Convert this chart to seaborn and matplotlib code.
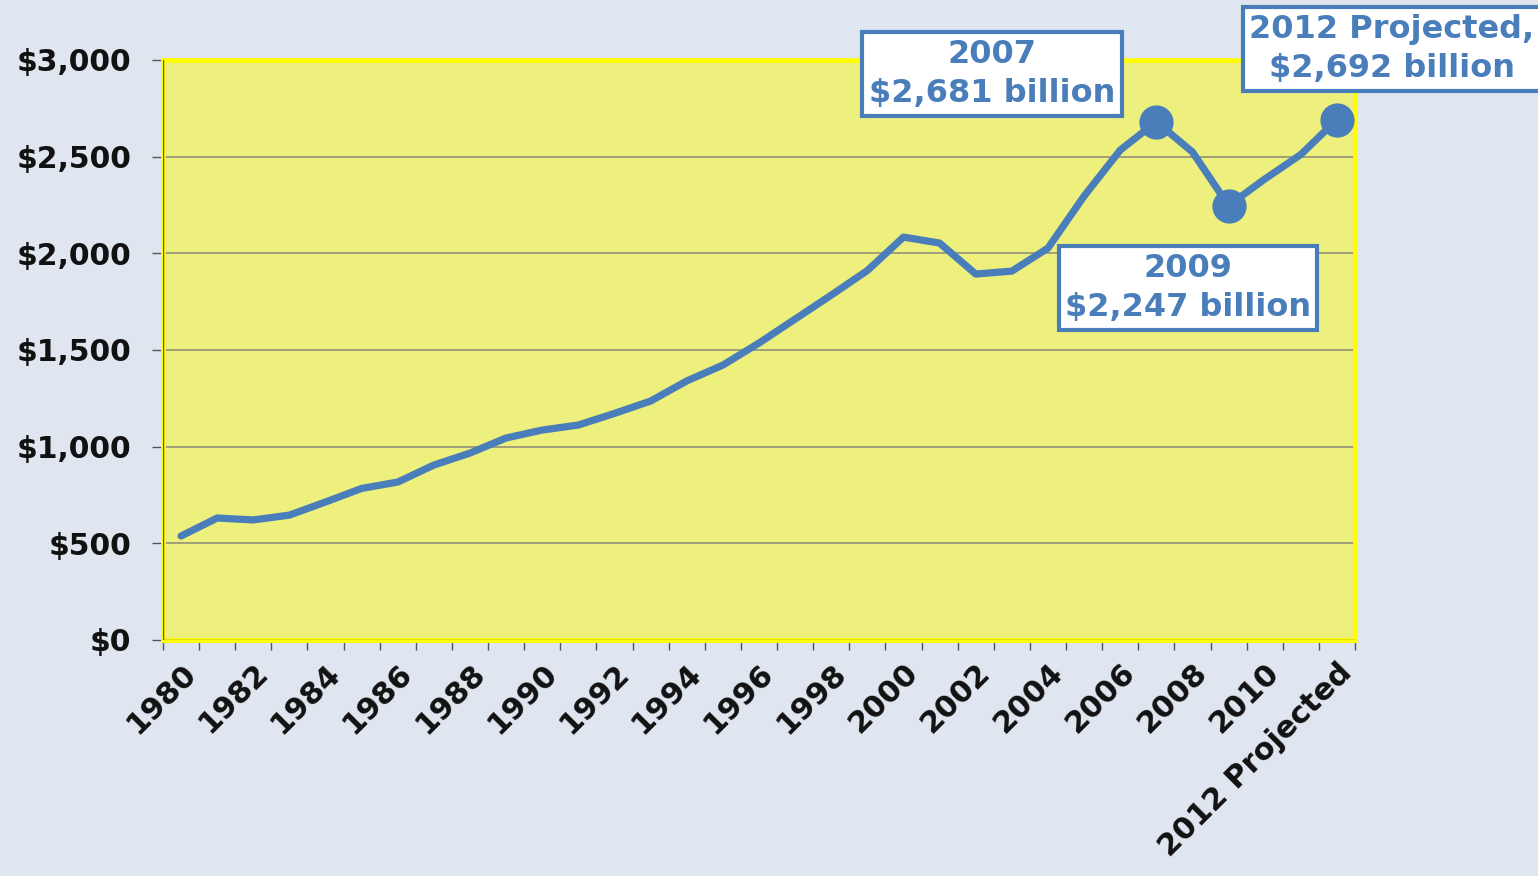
import matplotlib
matplotlib.use("Agg")
import matplotlib.pyplot as plt
import matplotlib.ticker as mticker
import seaborn as sns
import numpy as np
import pandas as pd

years = list(range(1980, 2013))
spending = [538, 631, 621, 646, 714, 784, 817, 905, 967, 1045, 1086, 1112,
            1172, 1236, 1340, 1422, 1536, 1660, 1784, 1911, 2084, 2053, 1893,
            1908, 2027, 2296, 2534, 2681, 2524, 2247, 2384, 2511, 2692]
tick_labels = [str(y) for y in range(1980, 2012, 2)] + ["2012 Projected"]
highlight_years = [2007, 2009, 2012]
annot_texts = ["2007\n$2,681 billion", "2009\n$2,247 billion",
               "2012 Projected,\n$2,692 billion"]

df = pd.DataFrame({"year": years, "spending": spending})
df["pos"] = np.arange(len(df))

sns.set_theme(style="white")
plt.rcParams["font.family"] = ["DejaVu Sans"]

BLUE = "#4a7ebb"
fig = plt.figure(figsize=(15.38, 8.76), dpi=100, facecolor="#dfe6f0")
ax = fig.add_axes([163/1538, 1-640/876, (1355-163)/1538, (640-60)/876])
ax.set_facecolor("#eef07e")

sns.lineplot(data=df, x="pos", y="spending", ax=ax, color=BLUE, linewidth=5.2,
             solid_joinstyle="round", solid_capstyle="round", zorder=4)
hl = df[df["year"].isin(highlight_years)]
sns.scatterplot(data=hl, x="pos", y="spending", ax=ax, color=BLUE, s=520,
                edgecolor=BLUE, zorder=5, clip_on=False, legend=False)

ax.set_xlim(-0.5, len(df) - 0.5)
ax.set_ylim(0, 3000)
ax.yaxis.set_major_locator(mticker.MultipleLocator(500))
ax.yaxis.set_major_formatter(mticker.FuncFormatter(lambda v, p: f"${v:,.0f}"))
ax.grid(axis="y", color="#8a8878", linewidth=1.1)
ax.grid(axis="x", visible=False)
ax.set_axisbelow(True)

label_pos = [i for i in range(0, 32, 2)] + [32]
ax.set_xticks(label_pos)
ax.set_xticklabels(tick_labels, rotation=45, ha="right", rotation_mode="anchor",
                   fontsize=22, fontweight="bold", color="#111111")
ax.set_xticks(np.arange(-0.5, len(df), 1), minor=True)
ax.tick_params(axis="x", which="major", length=0, pad=13)
ax.tick_params(axis="x", which="minor", length=7, width=1, color="#555555",
               direction="out", bottom=True)
ax.tick_params(axis="y", length=8, width=1, color="#555555", direction="out",
               left=True, labelsize=21.5, pad=15)
for lab in ax.get_yticklabels():
    lab.set_fontweight("bold")
    lab.set_color("#111111")
ax.set_xlabel("")
ax.set_ylabel("")

for s in ax.spines.values():
    s.set_color("#ffff00")
    s.set_linewidth(3.5)
ax.axhline(0, color="#555555", linewidth=1, zorder=3)
ax.axvline(-0.5, color="#555555", linewidth=1, zorder=3)

box = dict(boxstyle="square,pad=0.2", facecolor="white", edgecolor=BLUE,
           linewidth=3)
centers = [(992, 74), (1188, 288), (1392, 49)]
for (cx, cy), t in zip(centers, annot_texts):
    fig.text(cx/1538, 1-cy/876, t, ha="center", va="center", fontsize=23,
             fontweight="bold", color=BLUE, bbox=box, linespacing=1.35,
             zorder=10)

fig.savefig("out.png", dpi=100, facecolor=fig.get_facecolor())
